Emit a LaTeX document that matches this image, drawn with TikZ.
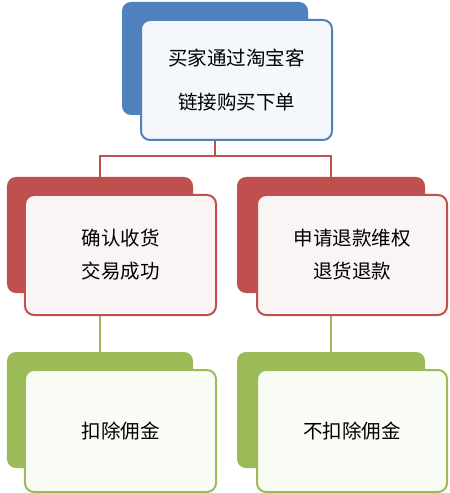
\documentclass[tikz,border=0pt]{standalone}
\usepackage{fontspec}
\setmainfont{Noto Sans CJK SC}
\definecolor{cblue}{HTML}{4F81BD}
\definecolor{cred}{HTML}{C0504D}
\definecolor{cgreen}{HTML}{9BBB59}
\tikzset{
  backbox/.style={rectangle, rounded corners=9bp, fill=#1, draw=none, minimum width=186bp, minimum height=116bp, inner sep=0pt},
  frontbox/.style={rectangle, rounded corners=9bp, fill=#1!6!white, draw=#1, line width=2bp, minimum width=190bp, minimum height=120bp, inner sep=0pt, align=center},
  conn/.style={draw=#1, line width=2.2bp},
  twoline/.style={font=\fontsize{19.5bp}{33bp}\selectfont},
  oneline/.style={font=\fontsize{19.5bp}{24bp}\selectfont},
}
\begin{document}
\begin{tikzpicture}[x=1bp,y=-1bp]
\useasboundingbox (0,0) rectangle (450,493);
% back boxes
\node[backbox=cblue, minimum height=113bp] (b1) at (215,58.5) {};
\node[backbox=cred] (b2) at (100,235) {};
\node[backbox=cred, minimum width=188bp] (b3) at (331,235) {};
\node[backbox=cgreen] (b4) at (100,410) {};
\node[backbox=cgreen, minimum width=188bp] (b5) at (331,410) {};
% connectors
\coordinate (j) at (215,156);
\draw[conn=cred] (b1.south) -- (j);
\draw[conn=cred] (b2.north) |- (j) -| (b3.north);
\draw[conn=cgreen] (b2.south) -- (b4.north);
\draw[conn=cgreen] (b3.south) -- (b5.north);
% front boxes
\node[frontbox=cblue, minimum width=191bp, font=\fontsize{19.5bp}{44bp}\selectfont] (f1) at (236.5,80) {买家通过淘宝客\\链接购买下单};
\node[frontbox=cred, minimum width=191bp, twoline] (f2) at (120.5,255) {确认收货\\交易成功};
\node[frontbox=cred, twoline] (f3) at (352,255) {申请退款维权\\退货退款};
\node[frontbox=cgreen, minimum width=191bp, minimum height=122bp, oneline] (f4) at (120.5,431) {扣除佣金};
\node[frontbox=cgreen, minimum height=122bp, oneline] (f5) at (352,431) {不扣除佣金};
\end{tikzpicture}
\end{document}
